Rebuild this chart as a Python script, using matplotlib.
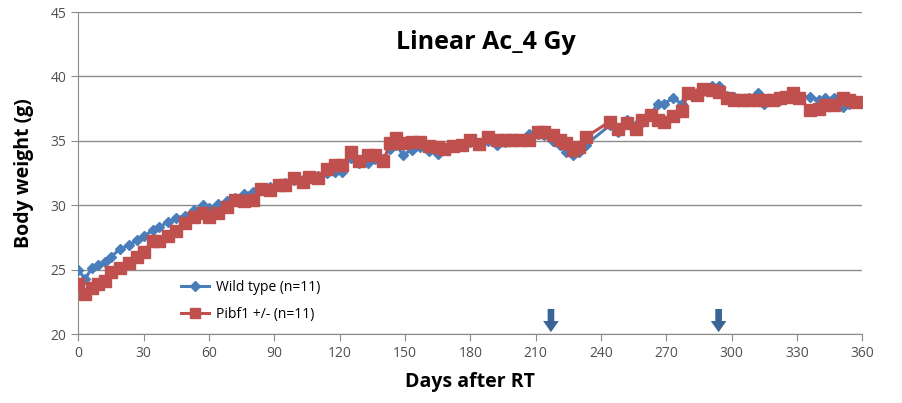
import matplotlib
matplotlib.use("Agg")
import matplotlib.pyplot as plt

# measurement days (shared by both groups)
days = [0, 3, 6, 9, 12, 15, 19, 23, 27, 30, 34, 37, 41, 45, 49, 53, 57, 60, 64, 68,
        72, 76, 80, 84, 88, 92, 95, 99, 103, 106, 110, 114, 118, 121, 125, 129, 133, 136,
        140, 143, 146, 149, 153, 157, 161, 165, 168, 172, 176, 180, 184, 188, 192, 196,
        199, 203, 207, 211, 214, 218, 221, 224, 227, 230, 233, 244, 248, 252, 256, 259,
        263, 266, 269, 273, 277, 280, 284, 287, 291, 294, 298, 301, 305, 308, 312, 315,
        319, 322, 325, 328, 331, 336, 340, 343, 347, 351, 354, 357]

wild_type = [25.0, 24.25, 25.1, 25.35, 25.6, 26.0, 26.6, 26.9, 27.3, 27.6, 28.05, 28.3,
             28.7, 29.0, 29.2, 29.6, 30.0, 29.8, 30.1, 30.3, 30.6, 30.9, 31.0, 31.2, 31.4,
             31.6, 31.7, 32.0, 32.0, 32.2, 32.3, 32.5, 32.6, 32.6, 33.7, 33.3, 33.25, 33.6,
             33.6, 34.4, 34.7, 33.9, 34.3, 34.5, 34.2, 34.0, 34.3, 34.7, 34.6, 34.9, 34.8,
             35.0, 34.7, 34.9, 35.0, 35.0, 35.5, 35.5, 35.45, 35.0, 34.7, 34.15, 33.9,
             34.15, 34.7, 36.2, 35.7, 36.6, 36.2, 36.5, 37.1, 37.9, 37.9, 38.3, 37.9, 38.7,
             38.7, 38.9, 39.3, 39.3, 38.5, 38.4, 38.2, 38.3, 38.7, 37.9, 38.1, 38.2, 38.3,
             38.8, 38.4, 38.4, 38.2, 38.3, 38.3, 37.65, 37.9, 38.0]

pibf1_het = [23.9, 23.1, 23.55, 23.9, 24.1, 24.8, 25.1, 25.5, 26.0, 26.4, 27.2, 27.2,
             27.6, 28.0, 28.6, 29.1, 29.4, 29.1, 29.4, 29.9, 30.4, 30.35, 30.4, 31.3, 31.2,
             31.6, 31.6, 32.1, 31.8, 32.2, 32.1, 32.8, 33.1, 33.1, 34.1, 33.4, 33.9, 33.9,
             33.4, 34.8, 35.25, 34.8, 34.9, 34.9, 34.6, 34.5, 34.4, 34.6, 34.7, 35.1, 34.75,
             35.3, 35.06, 35.06, 35.06, 35.1, 35.1, 35.7, 35.7, 35.45, 35.1, 34.8, 34.3,
             34.55, 35.3, 36.5, 35.96, 36.36, 35.96, 36.6, 37.0, 36.6, 36.5, 36.9, 37.3,
             38.7, 38.56, 39.0, 38.95, 38.8, 38.3, 38.2, 38.2, 38.2, 38.2, 38.2, 38.2, 38.3,
             38.4, 38.7, 38.3, 37.4, 37.5, 37.8, 37.8, 38.3, 38.2, 38.05]

arrow_days = [217, 294]
x_ticks = list(range(0, 361, 30))
y_ticks = [20, 25, 30, 35, 40, 45]

plt.rcParams['font.family'] = ['Open Sans', 'DejaVu Sans']

fig = plt.figure(figsize=(9.02, 4.03), dpi=100)
ax = fig.add_axes([0.087, 0.171, 0.869, 0.799])

ax.plot(days, wild_type, color='#4A7EBB', lw=2.2, marker='D', ms=5.5,
        label='Wild type (n=11)', zorder=3)
ax.plot(days, pibf1_het, color='#C0504D', lw=2.2, marker='s', ms=8,
        label='Pibf1 +/- (n=11)', zorder=4)

for d in arrow_days:
    ax.annotate('', xy=(d, 20.15), xytext=(d, 21.95),
                arrowprops=dict(arrowstyle='simple,head_width=0.7,head_length=0.5,tail_width=0.3',
                                mutation_scale=16, color='#3A6496', lw=0,
                                shrinkA=0, shrinkB=0), zorder=5)

ax.set_xlim(0, 360)
ax.set_ylim(20, 45)
ax.set_xticks(x_ticks)
ax.set_yticks(y_ticks)
ax.grid(axis='y', color='#8C8C8C', lw=1)
ax.set_axisbelow(True)
for s in ['top', 'right']:
    ax.spines[s].set_visible(False)
for s in ['left', 'bottom']:
    ax.spines[s].set_color('#8C8C8C')
ax.tick_params(colors='#8C8C8C', labelcolor='#505050', labelsize=10, length=5)

ax.set_xlabel('Days after RT', fontsize=14, fontweight='bold', labelpad=8)
ax.set_ylabel('Body weight (g)', fontsize=14, fontweight='bold', labelpad=12)
ax.text(0.52, 0.905, 'Linear Ac_4 Gy', transform=ax.transAxes, ha='center', va='center',
        fontsize=18, fontweight='bold')

ax.legend(loc='lower left', bbox_to_anchor=(0.115, 0.0), frameon=False, fontsize=10,
          handlelength=2.0, handletextpad=0.5, labelspacing=0.85, markerscale=0.85)

fig.savefig('out.png', dpi=100)
